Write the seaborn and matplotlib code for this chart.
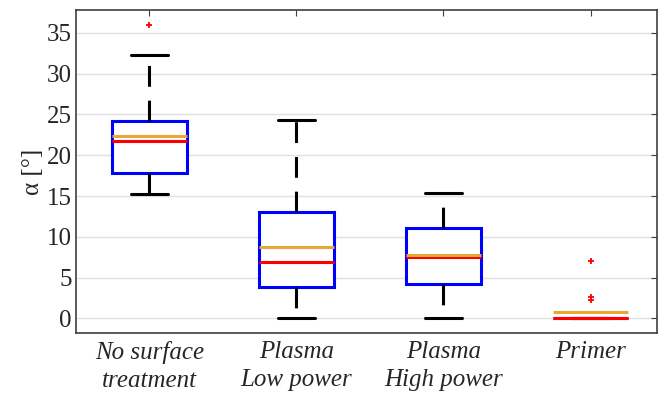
import matplotlib
matplotlib.use("Agg")
import matplotlib.pyplot as plt
import seaborn as sns
import pandas as pd

categories = ["No surface\ntreatment", "Plasma\nLow power", "Plasma\nHigh power", "Primer"]
# sample values consistent with the quartiles, whiskers, means and outliers
no_treatment = [15.3, 16.2, 17.0, 17.85, 19.0, 20.5, 21.8, 22.6, 23.5, 24.2, 24.95, 32.3, 36.0]
plasma_low = [0.0, 2.0, 3.85, 5.5, 6.9, 9.0, 13.1, 13.65, 24.3]
plasma_high = [0.0, 2.5, 4.2, 6.0, 7.5, 9.5, 11.1, 14.0, 15.4]
primer = [0.0] * 12 + [2.3, 2.6, 7.0]
yticks = [0, 5, 10, 15, 20, 25, 30, 35]

groups = [no_treatment, plasma_low, plasma_high, primer]
df = pd.DataFrame({
    "group": [c for c, g in zip(categories, groups) for _ in g],
    "value": [v for g in groups for v in g],
})

sns.set_style("white")
plt.rcParams["font.family"] = ["Liberation Serif", "DejaVu Serif"]

fig = plt.figure(figsize=(6.6, 3.98), dpi=100)
ax = fig.add_axes([0.115, 0.163, 0.88, 0.812])

lw = 2.2
sns.boxplot(
    data=df, x="group", y="value", order=categories, ax=ax,
    width=0.51, color="white", linewidth=lw,
    whis=1.5,
    boxprops=dict(edgecolor="#0000ff", facecolor="white", linewidth=lw),
    medianprops=dict(color="#ff0000", linewidth=lw),
    whiskerprops=dict(color="black", linewidth=lw, linestyle=(0, (15 / lw, 10 / lw))),
    capprops=dict(color="black", linewidth=lw),
    flierprops=dict(marker="+", markeredgecolor="#ff0000", markerfacecolor="#ff0000",
                    markersize=5, markeredgewidth=1.3),
    showmeans=True, meanline=True,
    meanprops=dict(color="#e8a838", linewidth=lw, linestyle="-"),
)

ax.set_ylim(-1.8, 37.8)
ax.set_xlim(-0.5, 3.45)
ax.set_yticks(yticks)
ax.set_yticklabels([str(t) for t in yticks], fontsize=18)
ax.set_xticks(range(len(categories)))
ax.set_xticklabels(categories, fontsize=18, style="italic", linespacing=1.35)
ax.set_xlabel("")
ax.set_ylabel("α [°]", fontsize=18, labelpad=2)
ax.yaxis.grid(True, color="#e0e0e0", linewidth=1)
ax.set_axisbelow(True)
ax.tick_params(axis="both", direction="in", top=True, right=True, length=4,
               color="#404040")
ax.tick_params(axis="y", pad=3)
ax.tick_params(axis="x", pad=6)
for s in ax.spines.values():
    s.set_color("#404040")
    s.set_linewidth(1.2)

fig.savefig("out.png", dpi=100)
